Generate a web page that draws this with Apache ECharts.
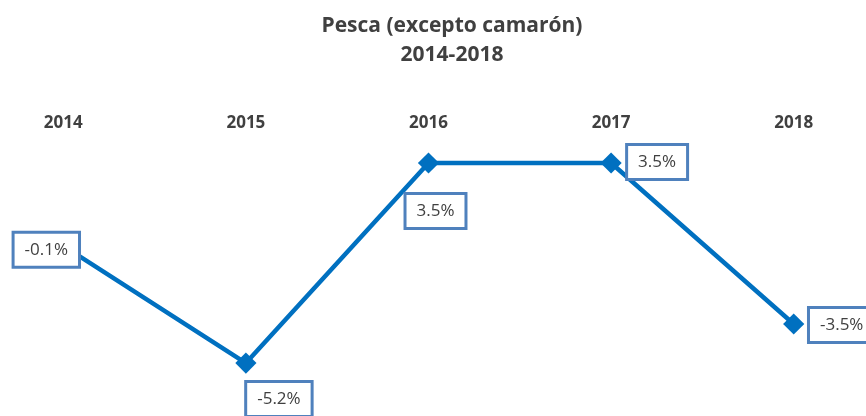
<!DOCTYPE html>
<html lang="es">
<head>
	<meta charset="UTF-8">
	<title>Pesca (excepto camarón)</title>
	<script src="https://cdn.jsdelivr.net/npm/echarts@6/dist/echarts.min.js"></script>
	<style>
		html, body { margin: 0; padding: 0; background: #fff; }
		#main { width: 866px; height: 416px; }
	</style>
</head>
<body>
	<div id="main"></div>
	<script type="text/javascript">
	var years = ['2014', '2015', '2016', '2017', '2018'];
	var values = [-0.1, -5.2, 3.5, 3.5, -3.5];
	// where each value box sits, relative to its point
	var labelOffsets = [[-17, 4], [33, 36], [7, 48], [46, -1], [48, 1]];

	var seriesData = values.map(function (v, i) {
		return {
			value: v,
			label: { offset: labelOffsets[i] }
		};
	});

	var option = {
		animation: false,
		backgroundColor: '#ffffff',
		textStyle: { fontFamily: '"Open Sans", Lato, sans-serif' },
		title: {
			text: 'Pesca (excepto camarón)\n2014-2018',
			left: 447,
			top: 7,
			textAlign: 'center',
			textStyle: {
				fontSize: 21,
				fontWeight: 'bold',
				color: '#404040',
				lineHeight: 29
			}
		},
		grid: {
			outerBoundsMode: 'none',
			left: -28,
			right: -19,
			top: 128.5,
			bottom: 34.5
		},
		xAxis: {
			type: 'category',
			position: 'top',
			data: years,
			boundaryGap: true,
			axisLine: { show: false },
			axisTick: { show: false },
			axisLabel: {
				margin: -3,
				fontSize: 17,
				fontWeight: 'bold',
				color: '#404040'
			}
		},
		yAxis: {
			type: 'value',
			min: -6,
			max: 5,
			show: false,
			splitLine: { show: false }
		},
		series: [{
			type: 'line',
			data: seriesData,
			symbol: 'rect',
			symbolSize: 15,
			symbolRotate: 45,
			lineStyle: { color: '#0070C0', width: 4.5 },
			itemStyle: { color: '#0070C0' },
			label: {
				show: true,
				position: 'inside',
				formatter: function (p) { return p.value.toFixed(1) + '%'; },
				fontSize: 17,
				color: '#404040',
				backgroundColor: '#ffffff',
				borderColor: '#4F81BD',
				borderWidth: 3,
				padding: [8, 10, 7, 10]
			},
			z: 3
		}]
	};

	var chart = echarts.init(document.getElementById('main'));
	chart.setOption(option);
	</script>
</body>
</html>
